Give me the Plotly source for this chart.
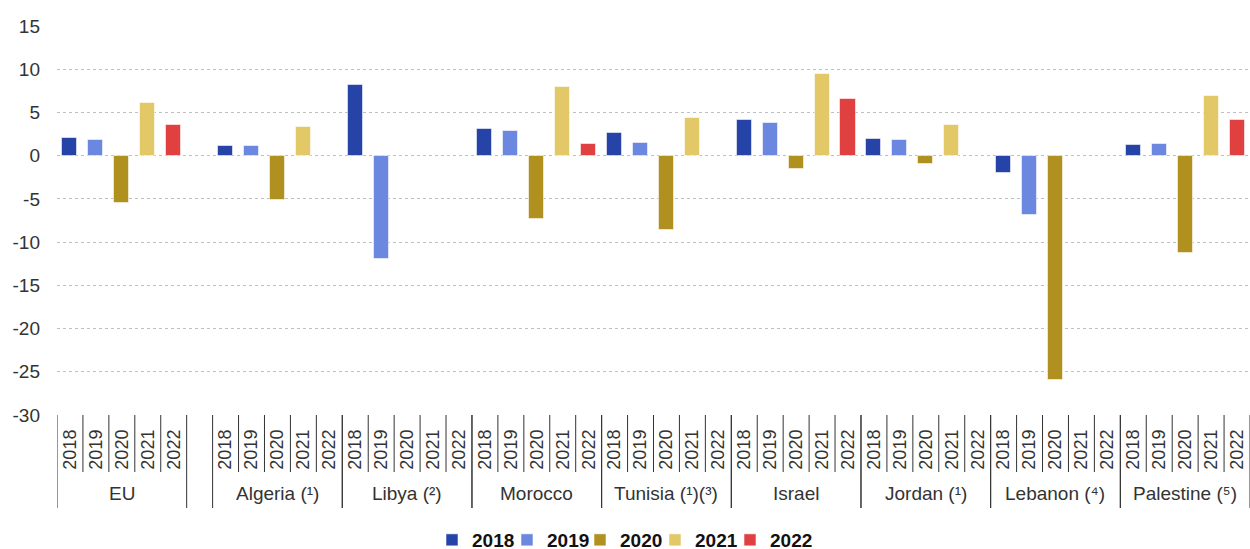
import plotly.graph_objects as go

groups = ["EU", "Algeria (¹)", "Libya (²)", "Morocco", "Tunisia (¹)(³)",
          "Israel", "Jordan (¹)", "Lebanon (⁴)", "Palestine (⁵)"]
years = ["2018", "2019", "2020", "2021", "2022"]

v2018 = [2.0, 1.1, 8.2, 3.1, 2.6, 4.1, 1.9, -2.0, 1.2]
v2019 = [1.8, 1.1, -11.9, 2.9, 1.5, 3.8, 1.8, -6.9, 1.3]
v2020 = [-5.5, -5.1, None, -7.3, -8.6, -1.5, -1.0, -26.0, -11.3]
v2021 = [6.1, 3.3, None, 7.9, 4.4, 9.4, 3.6, None, 6.9]
v2022 = [3.5, None, None, 1.3, None, 6.5, None, None, 4.1]

y_ticks = [-30, -25, -20, -15, -10, -5, 0, 5, 10, 15]
y_ticktext = ["-30", "-25", "-20", "-15", "-10", "-5", "0", "5", "10", "15"]

series = [v2018, v2019, v2020, v2021, v2022]
colors = ["#2644A7", "#6B87E0", "#B09120", "#E3C867", "#E04040"]

FONT = "Liberation Sans, Arial, sans-serif"
TXT = "#333333"

# layout geometry
W, H = 1250, 549
ML, MR, MT, MB = 57, 0, 26, 134
plot_h = H - MT - MB
plot_w = W - ML - MR
legend_left_px = [432, 507, 580, 655, 730]


def slot(g, j):
    return j if g == 0 else 5 * g + 1 + j


nslots = 5 * len(groups) + 1


def ypaper(px):
    return (H - MB - px) / plot_h


def xpaper(px):
    return (px - ML) / plot_w


fig = go.Figure()
legend_layouts = {}
for j, (yr, vals, col) in enumerate(zip(years, series, colors)):
    xs = [slot(g, j) for g in range(len(groups))]
    lname = "legend" if j == 0 else f"legend{j + 1}"
    fig.add_trace(go.Bar(
        x=xs, y=vals, name=yr, width=0.58, legend=lname,
        marker=dict(color=col, line=dict(color="rgba(255,255,255,0.55)", width=1)),
    ))
    legend_layouts[lname] = dict(
        orientation="h", x=xpaper(legend_left_px[j]), xanchor="left",
        y=ypaper(540), yanchor="middle", itemwidth=30,
        bgcolor="rgba(0,0,0,0)",
        font=dict(family=FONT, size=19, color="#111", weight="bold"))

tickvals = []
ticktext = []
for g in range(len(groups)):
    for j, yr in enumerate(years):
        tickvals.append(slot(g, j))
        ticktext.append(yr)

shapes = []
annotations = []
for g in range(len(groups)):
    start = slot(g, 0) - 0.5
    end = slot(g, 4) + 0.5
    for b in range(1, 5):
        xb = start + b
        shapes.append(dict(type="line", xref="x", yref="paper", x0=xb, x1=xb,
                           y0=0, y1=ypaper(472), line=dict(color="#333", width=1)))
    for xb in (start, end):
        shapes.append(dict(type="line", xref="x", yref="paper", x0=xb, x1=xb,
                           y0=0, y1=ypaper(508), line=dict(color="#333", width=1)))
    annotations.append(dict(x=(start + end) / 2, y=ypaper(494), xref="x", yref="paper",
                            yanchor="middle", text=groups[g], showarrow=False,
                            font=dict(family=FONT, size=19, color=TXT)))

fig.update_layout(
    width=W, height=H,
    margin=dict(l=ML, r=MR, t=MT, b=MB, autoexpand=False),
    paper_bgcolor="white", plot_bgcolor="white",
    barmode="overlay",
    bargap=0,
    font=dict(family=FONT, color=TXT),
    showlegend=True,
    xaxis=dict(range=[-0.5, nslots - 0.5], tickmode="array", tickvals=tickvals,
               ticktext=ticktext, tickangle=-90, ticks="", showgrid=False,
               showline=False, zeroline=False, ticklabelstandoff=10, automargin=False,
               tickfont=dict(family=FONT, size=18, color=TXT)),
    xaxis2=dict(range=[-0.5, nslots - 0.5], overlaying="x", anchor="free",
                position=30 / 45, side="bottom", showline=True, linecolor="#555",
                linewidth=1.5, ticks="outside", ticklen=5, tickwidth=1.5,
                tickcolor="#444", tickmode="array", automargin=False,
                tickvals=[i - 0.5 for i in range(nslots + 1)],
                showticklabels=False, showgrid=False, zeroline=False),
    yaxis=dict(range=[-30, 15], tickmode="array", tickvals=y_ticks, ticktext=y_ticktext,
               showgrid=True, gridcolor="#bfbfbf", griddash="dot", gridwidth=1,
               zeroline=False, ticks="", ticklabelstandoff=16, automargin=False,
               tickfont=dict(family=FONT, size=19, color=TXT)),
    shapes=shapes,
    annotations=annotations,
    **legend_layouts,
)

fig.write_html("out.html", config={"displayModeBar": False},
               post_script="document.body.style.margin='0';document.body.style.overflow='hidden';")
